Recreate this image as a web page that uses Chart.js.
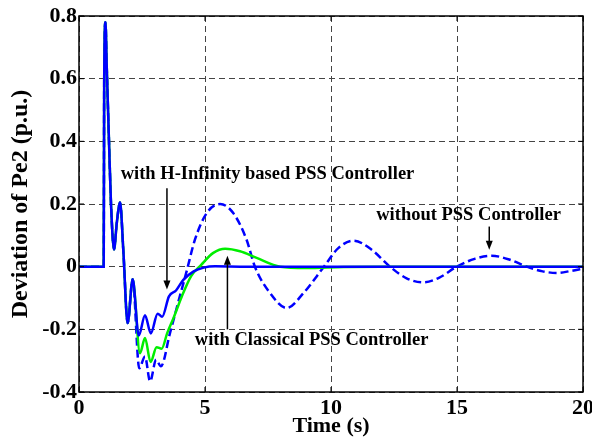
<!DOCTYPE html>
<html>
<head>
<meta charset="utf-8">
<script src="https://cdn.jsdelivr.net/npm/chart.js@4.4.1/dist/chart.umd.min.js"></script>
<style>
  html, body { margin: 0; padding: 0; background: #fff; }
  #wrap { width: 592px; height: 437px; position: relative; }
</style>
</head>
<body>
<div id="wrap"><canvas id="pe2Chart"></canvas></div>
<script>
// time (s) / deviation of Pe2 (p.u.)
// all three responses share the same start until ~2.1 s
var tStart = [0, 0.98, 1.0, 1.05, 1.1, 1.19, 1.27, 1.39, 1.5, 1.63, 1.76, 1.93, 2.13]
var vStart = [0, 0, 0.6, 0.78, 0.64, 0.4, 0.2, 0.055, 0.14, 0.205, 0.05, -0.18, -0.04]

var tNoPss = [2.39, 2.62, 2.82, 3.06, 3.25, 3.61, 4.0, 4.27, 4.6, 5.07, 5.6, 6.12, 6.65, 6.98, 7.58, 8.24, 8.9, 9.72, 10.3, 10.89, 11.6, 12.34, 13.0, 13.66, 14.3, 14.99, 15.7, 16.37, 17.1, 17.77, 18.4, 18.96, 19.5, 20]
var vNoPss = [-0.324, -0.287, -0.366, -0.297, -0.318, -0.212, -0.095, -0.015, 0.086, 0.171, 0.2, 0.171, 0.086, 0.0, -0.084, -0.132, -0.085, 0, 0.06, 0.083, 0.055, 0, -0.037, -0.05, -0.035, 0, 0.025, 0.035, 0.022, 0, -0.015, -0.02, -0.014, -0.006]

var tClassical = [2.42, 2.62, 2.84, 3.08, 3.28, 3.5, 3.76, 4.08, 4.45, 4.85, 5.33, 5.8, 6.39, 7.05, 7.98, 9.0, 10.5, 12, 20]
var vClassical = [-0.276, -0.228, -0.304, -0.257, -0.262, -0.212, -0.162, -0.095, -0.03, 0.006, 0.044, 0.057, 0.049, 0.028, 0.0, -0.004, -0.001, 0, 0]

var tHinf = [2.37, 2.62, 2.85, 3.12, 3.3, 3.57, 3.85, 4.14, 4.55, 4.95, 5.4, 6.5, 20]
var vHinf = [-0.22, -0.155, -0.213, -0.15, -0.16, -0.095, -0.076, -0.042, -0.015, -0.003, 0.001, 0, 0]

var xTicks = [0, 5, 10, 15, 20]
var yTicks = [-0.4, -0.2, 0, 0.2, 0.4, 0.6, 0.8]
var yTickLabels = ['-0.4', '-0.2', '0', '0.2', '0.4', '0.6', '0.8']

// text + arrow callouts, in data units
var notes = [
  { text: 'with H-Infinity based PSS Controller', tx: 7.48, ty: 0.294, ax: 3.49, from: 0.25, to: -0.073 },
  { text: 'with Classical PSS Controller', tx: 9.23, ty: -0.236, ax: 5.89, from: -0.2, to: 0.035 },
  { text: 'without PSS Controller', tx: 15.46, ty: 0.163, ax: 16.28, from: 0.128, to: 0.054 }
]

function toPoints(ts, vs) {
  var pts = []
  for (var i = 0; i < ts.length; i++) pts.push({ x: ts[i], y: vs[i] })
  return pts
}

var font = '"Liberation Serif", "Times New Roman", serif'

var frame = {
  id: 'frame',
  afterDatasetsDraw: function(chart) {
    var ctx = chart.ctx, a = chart.chartArea
    var xs = chart.scales.x, ys = chart.scales.y
    ctx.save()
    ctx.strokeStyle = '#000'
    ctx.lineWidth = 1.5
    ctx.strokeRect(a.left, a.top, a.right - a.left, a.bottom - a.top)
    // inward tick marks on all sides
    ctx.lineWidth = 1
    ctx.beginPath()
    xTicks.forEach(function(t) {
      var px = xs.getPixelForValue(t)
      ctx.moveTo(px, a.bottom); ctx.lineTo(px, a.bottom - 5)
      ctx.moveTo(px, a.top); ctx.lineTo(px, a.top + 5)
    })
    yTicks.forEach(function(v) {
      var py = ys.getPixelForValue(v)
      ctx.moveTo(a.left, py); ctx.lineTo(a.left + 5, py)
      ctx.moveTo(a.right, py); ctx.lineTo(a.right - 5, py)
    })
    ctx.stroke()

    // callouts
    ctx.fillStyle = '#000'
    ctx.font = 'bold 18.5px ' + font
    ctx.textAlign = 'center'
    ctx.textBaseline = 'middle'
    notes.forEach(function(n) {
      ctx.fillText(n.text, xs.getPixelForValue(n.tx), ys.getPixelForValue(n.ty))
      var x = xs.getPixelForValue(n.ax)
      var y0 = ys.getPixelForValue(n.from), y1 = ys.getPixelForValue(n.to)
      var dir = y1 > y0 ? 1 : -1
      ctx.lineWidth = 1.5
      ctx.beginPath()
      ctx.moveTo(x, y0); ctx.lineTo(x, y1 - dir * 6)
      ctx.stroke()
      ctx.beginPath()
      ctx.moveTo(x, y1)
      ctx.lineTo(x - 3.5, y1 - dir * 9)
      ctx.lineTo(x + 3.5, y1 - dir * 9)
      ctx.closePath()
      ctx.fill()
    })
    ctx.restore()
  }
}

new Chart('pe2Chart', {
  type: 'line',
  data: {
    datasets: [
      {
        label: 'with H-Infinity based PSS Controller',
        data: toPoints(tStart.concat(tHinf), vStart.concat(vHinf)),
        borderColor: '#0000ff',
        borderWidth: 2.5,
        order: 0
      },
      {
        label: 'with Classical PSS Controller',
        data: toPoints(tStart.concat(tClassical), vStart.concat(vClassical)),
        borderColor: '#00ee00',
        borderWidth: 2.5,
        order: 1
      },
      {
        label: 'without PSS Controller',
        data: toPoints(tStart.concat(tNoPss), vStart.concat(vNoPss)),
        borderColor: '#0000ff',
        borderWidth: 2.5,
        borderDash: [8, 4],
        order: 2
      }
    ]
  },
  options: {
    responsive: true,
    maintainAspectRatio: false,
    animation: false,
    events: [],
    elements: {
      point: { radius: 0 },
      line: { cubicInterpolationMode: 'monotone', fill: false }
    },
    layout: { padding: { top: 16, right: 9, left: 0, bottom: 0 } },
    plugins: { legend: { display: false }, tooltip: { enabled: false } },
    scales: {
      x: {
        type: 'linear',
        min: 0,
        max: 20,
        afterBuildTicks: function(s) { s.ticks = xTicks.map(function(v) { return { value: v } }) },
        afterFit: function(s) { s.height = 45; s.paddingLeft = 0; s.paddingRight = 0 },
        grid: { color: '#444', lineWidth: 1, drawTicks: false },
        border: { display: false, dash: [6, 4] },
        ticks: {
          color: '#000',
          padding: 4,
          maxRotation: 0,
          font: { family: font, size: 22, weight: 'bold', lineHeight: 1.1 },
          callback: function(v) { return String(v) }
        },
        title: {
          display: true,
          text: 'Time (s)',
          color: '#000',
          padding: { top: 0, bottom: 0 },
          font: { family: font, size: 22, weight: 'bold', lineHeight: 1 }
        }
      },
      y: {
        type: 'linear',
        min: -0.4,
        max: 0.8,
        afterBuildTicks: function(s) { s.ticks = yTicks.map(function(v) { return { value: v } }) },
        afterFit: function(s) { s.width = 79; s.paddingTop = 0; s.paddingBottom = 0 },
        grid: { color: '#444', lineWidth: 1, drawTicks: false },
        border: { display: false, dash: [6, 4] },
        ticks: {
          color: '#000',
          padding: 2,
          font: { family: font, size: 22, weight: 'bold' },
          callback: function(v) {
            var i = yTicks.findIndex(function(t) { return Math.abs(t - v) < 1e-9 })
            return i >= 0 ? yTickLabels[i] : ''
          }
        },
        title: {
          display: true,
          text: 'Deviation of Pe2 (p.u.)',
          color: '#000',
          padding: { top: 9, bottom: 0 },
          font: { family: font, size: 24, weight: 'bold', lineHeight: 1 }
        }
      }
    }
  },
  plugins: [frame]
})
</script>
</body>
</html>
